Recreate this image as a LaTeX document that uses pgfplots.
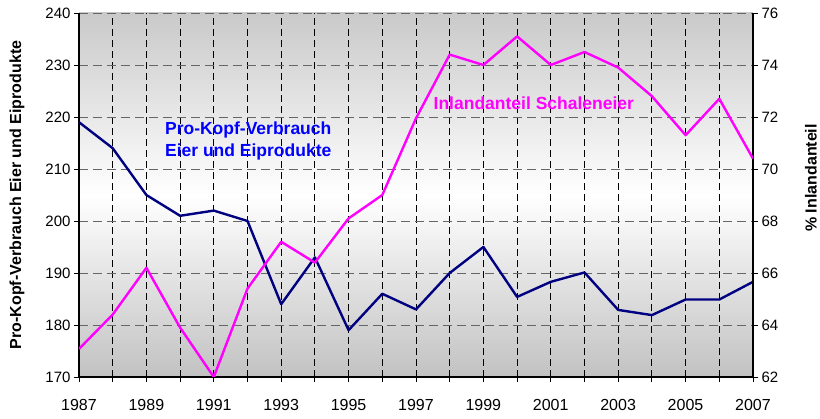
\documentclass[border=0pt]{standalone}
\usepackage{pgfplots}
\pgfplotsset{compat=1.18}
\usepackage{fontspec}
\setmainfont{Liberation Sans}
\definecolor{navyline}{RGB}{0,0,128}
\definecolor{magline}{RGB}{255,0,255}
\definecolor{annblue}{RGB}{0,0,255}
\begin{document}
\begin{tikzpicture}
\begin{axis}[
 name=main,
 scale only axis, width=674pt, height=364pt,
 xmin=1987, xmax=2007, ymin=170, ymax=240,
 axis x line*=bottom, axis y line*=left,
 xtick={1987,...,2007},
 xticklabels={1987,,1989,,1991,,1993,,1995,,1997,,1999,,2001,,2003,,2005,,2007},
 ytick={170,180,...,240},
 tick align=outside, major tick length=5pt,
 tick style={black, line width=0.8pt},
 axis line style={black, line width=1.2pt},
 xmajorgrids, ymajorgrids,
 x grid style={black, dash pattern=on 7pt off 4pt, line width=0.8pt},
 y grid style={black!60, dash pattern=on 9pt off 5pt, line width=0.9pt},
 axis background/.style={top color=black!21, bottom color=black!24, middle color=white},
 /pgf/number format/assume math mode=true,
 /pgf/number format/1000 sep={},
 x tick label style={font=\fontsize{16}{18}\selectfont, yshift=-14pt},
 y tick label style={font=\fontsize{15}{18}\selectfont},
 ylabel={Pro-Kopf-Verbrauch Eier und Eiprodukte},
 ylabel style={font=\bfseries\fontsize{16}{18}\selectfont, at={(axis description cs:-0.092,0.5)}, anchor=center},
 clip=false,
]
\addplot[navyline, line width=2.4pt, line join=round] coordinates {
(1987,219) (1988,214) (1989,205) (1990,201) (1991,202) (1992,200)
(1993,184) (1994,193) (1995,179) (1996,186) (1997,183) (1998,190)
(1999,195) (2000,185.4) (2001,188.3) (2002,190.1) (2003,182.9)
(2004,181.9) (2005,184.9) (2006,184.9) (2007,188.3)};
\node[anchor=west, align=left, text=annblue, font=\bfseries\fontsize{17.5}{22}\selectfont]
  at (axis cs:1989.45,215.4) {Pro-Kopf-Verbrauch\\Eier und Eiprodukte};
\node[anchor=west, text=magline, font=\bfseries\fontsize{17.5}{20}\selectfont]
  at (axis cs:1997.42,222.6) {Inlandanteil Schaleneier};
\end{axis}
\begin{axis}[
 scale only axis, width=674pt, height=364pt,
 xmin=1987, xmax=2007, ymin=62, ymax=76,
 axis y line*=right, axis x line=none,
 ytick={62,64,...,76},
 tick align=outside, major tick length=5pt,
 tick style={black, line width=0.8pt},
 axis line style={black, line width=1.2pt},
 /pgf/number format/assume math mode=true,
 y tick label style={font=\fontsize{15}{18}\selectfont},
 ylabel={\% Inlandanteil},
 ylabel style={font=\bfseries\fontsize{16}{18}\selectfont, at={(axis description cs:1.086,0.547)}, anchor=center},
]
\addplot[magline, line width=2.4pt, line join=round] coordinates {
(1987,63.08) (1988,64.4) (1989,66.2) (1990,63.9) (1991,62.0) (1992,65.4)
(1993,67.2) (1994,66.4) (1995,68.1) (1996,69.0) (1997,71.95) (1998,74.4)
(1999,74.0) (2000,75.1) (2001,74.0) (2002,74.5) (2003,73.9)
(2004,72.8) (2005,71.3) (2006,72.7) (2007,70.4)};
\end{axis}
\pgfresetboundingbox
\path ([shift={(-79pt,-42pt)}]main.south west) rectangle ([shift={(67pt,13pt)}]main.north east);
\end{tikzpicture}
\end{document}
